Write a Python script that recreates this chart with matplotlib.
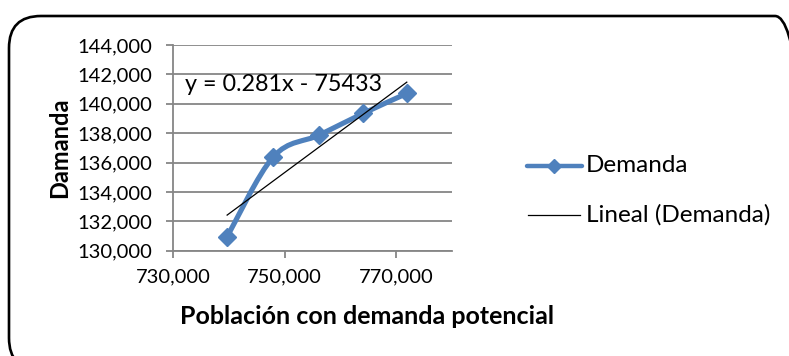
import numpy as np
import matplotlib
matplotlib.use('Agg')
import matplotlib.pyplot as plt
from matplotlib.path import Path
from matplotlib.patches import PathPatch, FancyBboxPatch
from matplotlib.lines import Line2D
from matplotlib.ticker import FuncFormatter
from matplotlib.transforms import IdentityTransform

poblacion = [739700, 748000, 756200, 764100, 771900]
demanda = [130950, 136400, 137870, 139350, 140700]
pendiente = 0.281
intercepto = -75433

x_ticks = [730000, 750000, 770000]
y_ticks = list(range(130000, 144001, 2000))

serie_color = '#4F81BD'
grid_color = '#868686'
plt.rcParams['font.family'] = ['Lato', 'DejaVu Sans']


def smooth_path(xs, ys):
    # bezier through the points, like a spreadsheet "smoothed line"
    pts = np.column_stack([xs, ys]).astype(float)
    ext = np.vstack([pts[0], pts, pts[-1]])
    verts = [pts[0]]
    codes = [Path.MOVETO]
    for i in range(len(pts) - 1):
        p0, p1, p2, p3 = ext[i], ext[i + 1], ext[i + 2], ext[i + 3]
        c1 = p1 + (p2 - p0) / 6.0
        c2 = p2 - (p3 - p1) / 6.0
        verts += [c1, c2, p2]
        codes += [Path.CURVE4] * 3
    return Path(verts, codes)


fig = plt.figure(figsize=(7.89, 3.56), dpi=100)
ax = fig.add_axes([173 / 789, 105.3 / 356, 279 / 789, 205.7 / 356])

ax.add_patch(PathPatch(smooth_path(poblacion, demanda), facecolor='none',
                       edgecolor=serie_color, lw=3.7, capstyle='round',
                       joinstyle='round', zorder=3))
ax.plot(poblacion, demanda, linestyle='none', marker='D', markersize=9.5,
        color=serie_color, zorder=4)

# linear trend from the fitted equation
tx = np.array([poblacion[0], poblacion[-1]])
ax.plot(tx, pendiente * tx + intercepto, color='black', lw=0.9, zorder=5)

ax.set_xlim(730000, 780000)
ax.set_ylim(130000, 144000)
ax.set_xticks(x_ticks)
ax.set_yticks(y_ticks)
fmt = FuncFormatter(lambda v, p: f'{int(v):,}')
ax.xaxis.set_major_formatter(fmt)
ax.yaxis.set_major_formatter(fmt)
ax.yaxis.grid(True, color=grid_color, lw=1.3)
ax.set_axisbelow(True)
for s in ['top', 'right']:
    ax.spines[s].set_visible(False)
for s in ['left', 'bottom']:
    ax.spines[s].set_color(grid_color)
    ax.spines[s].set_linewidth(1.3)
ax.tick_params(axis='both', colors=grid_color, length=5, width=1.3,
               labelcolor='black', labelsize=14.5)
ax.tick_params(axis='y', pad=10)
ax.tick_params(axis='x', pad=8)

ax.text(732150, 141300, 'y = 0.281x - 75433', fontsize=16.8, va='center',
        ha='left', zorder=6)

fig.text(60 / 789, 1 - 148 / 356, 'Damanda', rotation=90, fontsize=17,
         fontweight='bold', ha='center', va='center')
fig.text(367 / 789, 1 - 316 / 356, 'Población con demanda potencial',
         fontsize=18, fontweight='bold', ha='center', va='center')

# legend
fig.add_artist(Line2D([527 / 789, 582 / 789], [1 - 166 / 356] * 2,
                      color=serie_color, lw=3.2, solid_capstyle='round'))
fig.add_artist(Line2D([554 / 789], [1 - 166 / 356], marker='D',
                      markersize=7, color=serie_color, linestyle='none'))
fig.text(586 / 789, 1 - 166 / 356, 'Demanda', fontsize=17.5, va='center')
fig.add_artist(Line2D([528 / 789, 580 / 789], [1 - 215 / 356] * 2,
                      color='black', lw=0.9))
fig.text(586 / 789, 1 - 215 / 356, 'Lineal (Demanda)', fontsize=17.5,
         va='center')

# rounded chart border
fig.add_artist(FancyBboxPatch((9, -14), 798, 354,
                              boxstyle='round,pad=0,rounding_size=32',
                              transform=IdentityTransform(), facecolor='none',
                              edgecolor='black', lw=1.9))

fig.savefig('out.png', dpi=100)
